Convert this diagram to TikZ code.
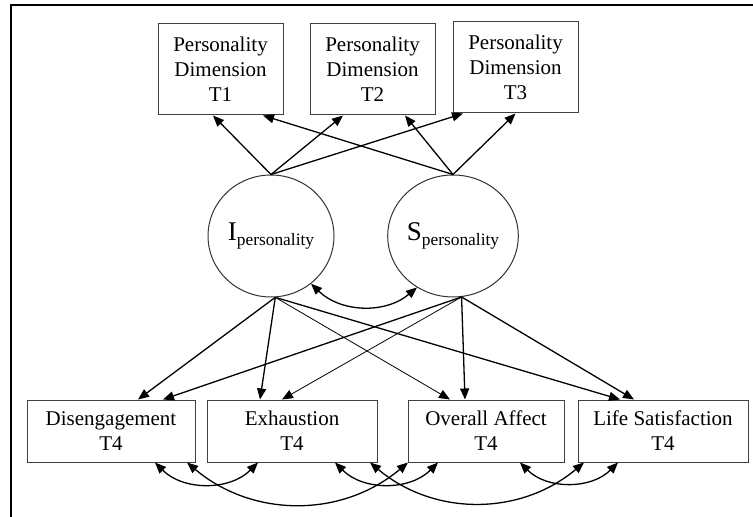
\documentclass[tikz,border=0pt]{standalone}
\usepackage{fontspec}
\setmainfont{Liberation Serif}
\usetikzlibrary{shapes.geometric,arrows.meta,positioning,calc}

\tikzset{
    obs/.style={draw=black!75, line width=0.5pt, align=center, inner sep=0pt,
        font=\fontsize{10.5}{12.5}\selectfont},
    lat/.style={draw=black!80, ellipse, line width=0.5pt, inner sep=0pt,
        minimum width=63pt, minimum height=61pt},
    path/.style={-{Triangle[length=5.5pt,width=4.5pt]}, line width=0.65pt},
    cov/.style={{Triangle[length=5.5pt,width=4.5pt]}-{Triangle[length=5.5pt,width=4.5pt]}, line width=0.65pt}
}
\newcommand{\latlabel}[1]{{\fontsize{13.5}{15}\selectfont #1}\raisebox{-2.5pt}{\fontsize{8.7}{10}\selectfont personality}}

\begin{document}
\begin{tikzpicture}[x=0.5pt,y=-0.5pt]
    \useasboundingbox (0,0) rectangle (753,517);
    % Frame
    \draw[line width=0.6pt] (11,517) -- (11,5) -- (753,5);

    % Personality dimensions
    \foreach \i/\x/\y in {1/220.5/69.5, 2/372.5/69.5, 3/515.5/67.5} {
        \node[obs, minimum width=62.5pt, minimum height=45.5pt] (T\i) at (\x,\y) {Personality\\Dimension\\T\i};
    }

    % Intercept and slope
    \node[lat] (I) at (271,236) {\latlabel{I}};
    \node[lat] (S) at (453,236) {\latlabel{S}};

    % Outcomes
    \node[obs, minimum width=84pt, minimum height=31pt] (D) at (111,431) {Disengagement\\T4};
    \node[obs, minimum width=85pt, minimum height=31pt] (E) at (292,431) {Exhaustion\\T4};
    \node[obs, minimum width=78pt, minimum height=31pt] (A) at (486,431) {Overall Affect\\T4};
    \node[obs, minimum width=85pt, minimum height=31pt] (L) at (663,431) {Life Satisfaction\\T4};

    % Loadings
    \foreach \t/\dx in {1/-7.5, 2/-29.5, 3/-52.5} {
        \draw[path] (I.north) -- ($(T\t.south)+(\dx,0)$);
    }
    \foreach \t/\dx in {1/42.5, 2/32.5, 3/0} {
        \draw[path] (S.north) -- ($(T\t.south)+(\dx,0)$);
    }
    \draw[cov] (I.-50) to[bend right=42] (S.-125);

    % Regressions
    \foreach \t/\dx/\w in {D/27/0.65, E/-32/0.65, A/-36/0.4, L/-43/0.65} {
        \draw[path, line width=\w pt] (I.-86) -- ($(\t.north)+(\dx,0)$);
    }
    \foreach \t/\dx/\w in {D/52/0.65, E/-10/0.4, A/-21/0.65, L/-29/0.65} {
        \draw[path, line width=\w pt] (S.-82) -- ($(\t.north)+(\dx,0)$);
    }

    % Residual covariances
    \draw[cov] ($(D.south)+(44,0)$) to[bend right=45] ($(E.south)+(-34,0)$);
    \draw[cov] ($(D.south)+(76,0)$) to[bend right=40] ($(A.south)+(-78,0)$);
    \draw[cov] ($(E.south)+(43,0)$) to[bend right=45] ($(A.south)+(-48,0)$);
    \draw[cov] ($(E.south)+(78,0)$) to[bend right=40] ($(L.south)+(-79,0)$);
    \draw[cov] ($(A.south)+(34,0)$) to[bend right=45] ($(L.south)+(-45,0)$);
\end{tikzpicture}
\end{document}
